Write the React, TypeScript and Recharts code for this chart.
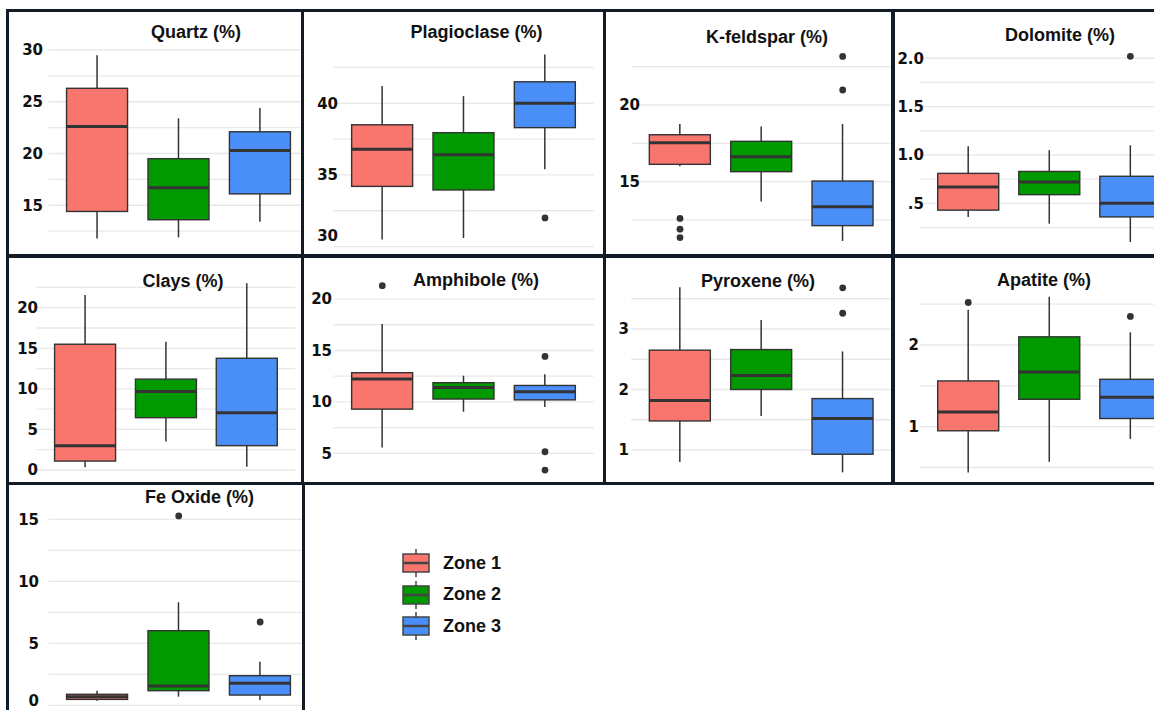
import React from 'react';
import { ComposedChart, Bar, Line, XAxis, YAxis, CartesianGrid, Cell } from 'recharts';

const zones = ['Zone 1', 'Zone 2', 'Zone 3'];
const zoneColors = ['#F8766D', '#009A00', '#4A8FF7'];

// five-number summary per zone: [lower whisker, Q1, median, Q3, upper whisker]
const quartz = [[11.8, 14.4, 22.6, 26.3, 29.5], [11.9, 13.6, 16.7, 19.5, 23.4], [13.4, 16.1, 20.3, 22.1, 24.4]];
const quartzOut = [[], [], []];
const plagioclase = [[30.5, 34.2, 36.8, 38.5, 41.2], [30.6, 33.95, 36.4, 37.95, 40.5], [35.4, 38.3, 40.0, 41.5, 43.4]];
const plagioclaseOut = [[], [], [32.0]];
const kfeldspar = [[16.0, 16.13, 17.54, 18.06, 18.76], [13.7, 15.65, 16.63, 17.63, 18.6], [11.13, 12.13, 13.37, 15.04, 18.76]];
const kfeldsparOut = [[12.6, 11.9, 11.35], [], [23.17, 20.98]];
const dolomite = [[0.36, 0.43, 0.67, 0.81, 1.09], [0.29, 0.59, 0.72, 0.83, 1.05], [0.1, 0.36, 0.5, 0.78, 1.1]];
const dolomiteOut = [[], [], [2.02]];
const clays = [[0.33, 1.1, 3.0, 15.5, 21.56], [3.5, 6.45, 9.66, 11.2, 15.8], [0.41, 3.0, 7.07, 13.77, 23.0]];
const claysOut = [[], [], []];
const amphibole = [[5.58, 9.3, 12.22, 12.84, 17.57], [9.05, 10.28, 11.39, 11.87, 12.55], [9.5, 10.2, 11.0, 11.6, 12.7]];
const amphiboleOut = [[21.3], [], [14.42, 5.16, 3.38]];
const pyroxene = [[0.8, 1.48, 1.82, 2.65, 3.69], [1.56, 2.0, 2.23, 2.66, 3.15], [0.63, 0.93, 1.52, 1.85, 2.63]];
const pyroxeneOut = [[], [], [3.68, 3.26]];
const apatite = [[0.44, 0.95, 1.18, 1.56, 2.43], [0.57, 1.335, 1.67, 2.1, 2.59], [0.85, 1.1, 1.36, 1.58, 2.155]];
const apatiteOut = [[2.52], [], [2.35]];
const feOxide = [[0.37, 0.48, 0.7, 0.89, 1.18], [0.7, 1.18, 1.56, 6.02, 8.31], [0.43, 0.83, 1.78, 2.39, 3.52]];
const feOxideOut = [[], [15.27], [6.72]];

// y ticks: labelled majors and unlabelled minor grid lines
const quartzTicks = [15, 20, 25, 30];
const quartzMinor = [12.5, 17.5, 22.5, 27.5];
const plagioclaseTicks = [30, 35, 40];
const plagioclaseMinor = [32.5, 37.5, 42.5];
const kfeldsparTicks = [15, 20];
const kfeldsparMinor = [12.5, 17.5, 22.5];
const dolomiteTicks = [0.5, 1, 1.5, 2];
const dolomiteMinor = [0.25, 0.75, 1.25, 1.75];
const dolomiteLabels = ['.5', '1.0', '1.5', '2.0'];
const claysTicks = [0, 5, 10, 15, 20];
const claysMinor = [2.5, 7.5, 12.5, 17.5, 22.5];
const amphiboleTicks = [5, 10, 15, 20];
const amphiboleMinor = [7.5, 12.5, 17.5];
const pyroxeneTicks = [1, 2, 3];
const pyroxeneMinor = [1.5, 2.5, 3.5];
const apatiteTicks = [1, 2];
const apatiteMinor = [0.5, 1.5, 2.5];
const feOxideTicks = [0, 5, 10, 15];
const feOxideMinor = [2.5, 7.5, 12.5];

// frame: [left, top, right, bottom] of the bordered cell; plot: [x0, x1, y0, y1]
const panels = [
  { title: 'Quartz (%)', stats: quartz, outs: quartzOut, ticks: quartzTicks, minor: quartzMinor, frame: [6, 9, 304, 257], plot: [48.4, 309, 46.5, 248], domain: [10.87, 30.34], labelX: 43, titleAt: [196, 31.7] },
  { title: 'Plagioclase (%)', stats: plagioclase, outs: plagioclaseOut, ticks: plagioclaseTicks, minor: plagioclaseMinor, frame: [301, 9, 606, 257], plot: [333.5, 593.8, 46.7, 248], domain: [29.9, 43.95], labelX: 338, labelMaxY: 236, titleAt: [476.5, 31.7] },
  { title: 'K-feldspar (%)', stats: kfeldspar, outs: kfeldsparOut, ticks: kfeldsparTicks, minor: kfeldsparMinor, frame: [603, 9, 895, 257], plot: [631.2, 891.5, 48.3, 250], domain: [10.54, 23.7], labelX: 640, titleAt: [767, 37.3] },
  { title: 'Dolomite (%)', stats: dolomite, outs: dolomiteOut, ticks: dolomiteTicks, minor: dolomiteMinor, labels: dolomiteLabels, frame: [891, 9, 1162, 257], plot: [919.6, 1179, 48.3, 250], domain: [0.018, 2.103], labelX: 924, titleAt: [1060, 35] },
  { title: 'Clays (%)', stats: clays, outs: claysOut, ticks: claysTicks, minor: claysMinor, frame: [6, 255, 304, 485], plot: [36.5, 295.2, 274.2, 476.5], domain: [-0.8, 24.13], labelX: 38, titleAt: [183, 281] },
  { title: 'Amphibole (%)', stats: amphibole, outs: amphiboleOut, ticks: amphiboleTicks, minor: amphiboleMinor, frame: [301, 255, 606, 485], plot: [333.5, 593.8, 276.4, 479.3], domain: [2.48, 22.2], labelX: 332, titleAt: [476, 280] },
  { title: 'Pyroxene (%)', stats: pyroxene, outs: pyroxeneOut, ticks: pyroxeneTicks, minor: pyroxeneMinor, frame: [603, 255, 895, 485], plot: [631.2, 891.5, 278, 478], domain: [0.537, 3.843], labelX: 629, titleAt: [758, 281] },
  { title: 'Apatite (%)', stats: apatite, outs: apatiteOut, ticks: apatiteTicks, minor: apatiteMinor, frame: [891, 255, 1162, 485], plot: [919.6, 1179, 278, 477], domain: [0.384, 2.82], labelX: 919, titleAt: [1044, 280] },
  { title: 'Fe Oxide (%)', stats: feOxide, outs: feOxideOut, ticks: feOxideTicks, minor: feOxideMinor, frame: [6, 482, 305, 722], plot: [48.4, 309, 506.9, 710], domain: [-0.375, 16.0], labelX: 39, labelMaxY: 701, titleAt: [199.5, 496.7] },
];

const INK = '#333333';
const FRAME = '#121c26';

function buildRows(stats: number[][], outs: number[][]) {
  return zones.map((zone, i) => {
    const [lo, q1, med, q3, hi] = stats[i];
    const row: any = { zone, range: [lo, hi], lo, q1, med, q3, hi };
    outs[i].forEach((v, k) => {
      row['out' + k] = v;
    });
    return row;
  });
}

// whiskers + box + median, drawn inside the bar's [lo, hi] pixel span
const BoxShape = (props: any) => {
  const { x, y, width, height, payload, fill } = props;
  if (!payload) return null;
  const top = Math.min(y, y + height);
  const bottom = Math.max(y, y + height);
  const toY = (v: number) => bottom - ((v - payload.lo) / (payload.hi - payload.lo)) * (bottom - top);
  const cx = x + width / 2;
  return (
    <g>
      <line x1={cx} x2={cx} y1={toY(payload.hi)} y2={toY(payload.lo)} stroke={INK} strokeWidth={1.5} />
      <rect x={x} y={toY(payload.q3)} width={width} height={toY(payload.q1) - toY(payload.q3)} fill={fill} stroke={INK} strokeWidth={1.4} />
      <line x1={x} x2={x + width} y1={toY(payload.med)} y2={toY(payload.med)} stroke={INK} strokeWidth={3} />
    </g>
  );
};

const YTick = (props: any) => {
  const { y, payload, panel } = props;
  const idx = panel.ticks.indexOf(payload.value);
  if (idx < 0) return null;
  const text = panel.labels ? panel.labels[idx] : String(payload.value);
  // keep the lowest label inside its cell
  const maxY = panel.labelMaxY != null ? panel.labelMaxY - panel.frame[1] : Infinity;
  return (
    <text x={panel.labelX - panel.frame[0]} y={Math.min(y, maxY)} dy="0.36em" textAnchor="end" fill="#111" fontFamily="DejaVu Sans" fontWeight="bold" fontSize={15}>
      {text}
    </text>
  );
};

function PanelChart({ panel }: { panel: any }) {
  const [L, T, R, B] = panel.frame;
  const [x0, x1, y0, y1] = panel.plot;
  const w = Math.ceil(x1 - L) + 2;
  const h = Math.ceil(y1 - T) + 2;
  const data = buildRows(panel.stats, panel.outs);
  const pad = (x1 - x0) * 0.03125;
  const ticks = [...panel.ticks, ...panel.minor].sort((a: number, b: number) => a - b);
  return (
    <div style={{ position: 'absolute', left: L, top: T, width: R - L, height: B - T, border: `3px solid ${FRAME}`, boxSizing: 'border-box', overflow: 'hidden' }}>
      <div style={{ position: 'absolute', left: -3, top: -3 }}>
        <ComposedChart width={w} height={h} data={data} margin={{ top: y0 - T, right: w - (x1 - L), bottom: h - (y1 - T), left: 0 }}>
          <CartesianGrid stroke="#e8e8e8" strokeWidth={1.3} syncWithTicks />
          <XAxis dataKey="zone" padding={{ left: pad, right: pad }} height={0} tick={false} axisLine={false} tickLine={false} />
          <YAxis type="number" domain={panel.domain} ticks={ticks} interval={0} width={x0 - L} axisLine={false} tickLine={false} tick={<YTick panel={panel} />} />
          <Bar dataKey="range" barSize={61} shape={<BoxShape />} isAnimationActive={false}>
            {data.map((_, i) => (
              <Cell key={i} fill={zoneColors[i]} />
            ))}
          </Bar>
          {[0, 1, 2].map((k) => (
            <Line key={k} dataKey={'out' + k} stroke="none" dot={{ r: 3.4, fill: INK, stroke: 'none' }} activeDot={false} legendType="none" isAnimationActive={false} />
          ))}
        </ComposedChart>
      </div>
    </div>
  );
}

function LegendKey({ color }: { color: string }) {
  return (
    <svg width={30} height={32} style={{ display: 'block' }}>
      <line x1={15} x2={15} y1={2} y2={30} stroke="#444" strokeWidth={1.5} />
      <rect x={2} y={7} width={26} height={18} fill={color} stroke="#444" strokeWidth={1.5} />
      <line x1={2} x2={28} y1={16} y2={16} stroke="#444" strokeWidth={2.5} />
    </svg>
  );
}

export default function App() {
  return (
    <div style={{ position: 'fixed', left: 0, top: 0, width: 1154, height: 710, background: '#fff', overflow: 'hidden' }}>
      {panels.map((p) => (
        <PanelChart key={p.title} panel={p} />
      ))}
      {panels.map((p) => (
        <div
          key={'t' + p.title}
          style={{ position: 'absolute', left: p.titleAt[0] - 120, top: p.titleAt[1] - 11, width: 240, height: 22, lineHeight: '22px', textAlign: 'center', fontFamily: '"Liberation Sans", Arial, sans-serif', fontWeight: 'bold', fontSize: 18, color: '#111' }}
        >
          {p.title}
        </div>
      ))}
      {zones.map((z, i) => (
        <div key={z} style={{ position: 'absolute', left: 401, top: 547 + i * 31.7, height: 32, display: 'flex', alignItems: 'center' }}>
          <LegendKey color={zoneColors[i]} />
          <span style={{ marginLeft: 12, fontFamily: '"Liberation Sans", Arial, sans-serif', fontWeight: 'bold', fontSize: 18, color: '#111' }}>{z}</span>
        </div>
      ))}
    </div>
  );
}
